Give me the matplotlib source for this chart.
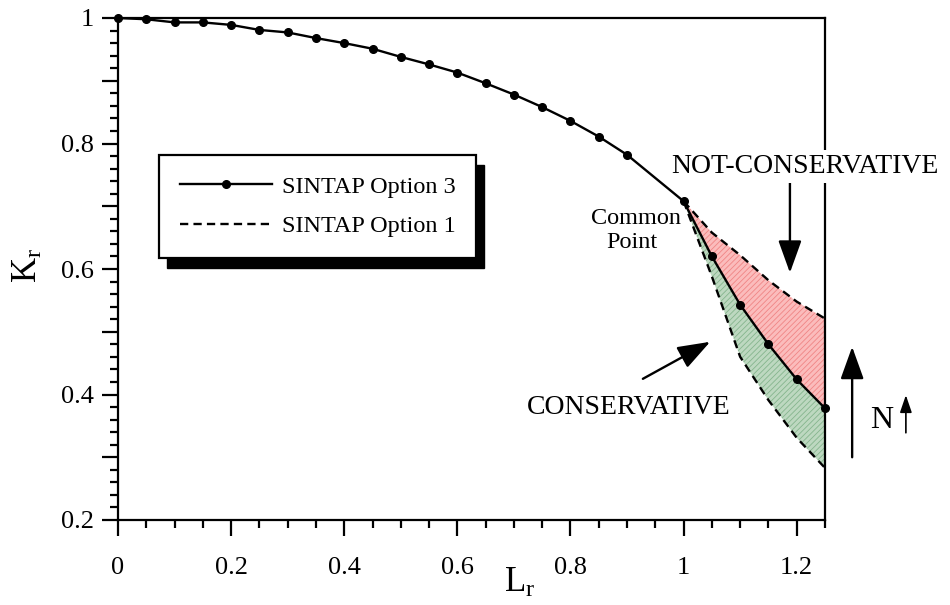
import matplotlib.pyplot as plt
from matplotlib.patches import Rectangle
from matplotlib.ticker import MultipleLocator, FuncFormatter
from matplotlib.transforms import IdentityTransform

plt.rcParams['font.family'] = ['Liberation Serif', 'DejaVu Serif']
plt.rcParams['font.size'] = 19
plt.rcParams['mathtext.default'] = 'regular'
plt.rcParams['hatch.linewidth'] = 0.6

# SINTAP Option 3 failure assessment line
lr_opt3 = [0.00, 0.05, 0.10, 0.15, 0.20, 0.25, 0.30, 0.35, 0.40, 0.45,
           0.50, 0.55, 0.60, 0.65, 0.70, 0.75, 0.80, 0.85, 0.90,
           1.00, 1.05, 1.10, 1.15, 1.20, 1.25]
kr_opt3 = [1.000, 0.998, 0.993, 0.993, 0.989, 0.981, 0.977, 0.968, 0.960, 0.951,
           0.938, 0.926, 0.913, 0.896, 0.878, 0.858, 0.836, 0.811, 0.782,
           0.708, 0.620, 0.543, 0.480, 0.424, 0.378]

# SINTAP Option 1 bounds past the common point
lr_opt1 = [1.00, 1.05, 1.10, 1.15, 1.20, 1.25]
kr_opt1_upper = [0.708, 0.658, 0.622, 0.582, 0.548, 0.521]
kr_opt1_lower = [0.708, 0.588, 0.460, 0.391, 0.331, 0.283]
kr_opt3_tail = kr_opt3[-len(lr_opt1):]

fig = plt.figure(figsize=(9.5, 6.05), dpi=100)
ax = fig.add_axes([118 / 950, 1 - 520 / 605, 707 / 950, 502 / 605])

ax.fill_between(lr_opt1, kr_opt3_tail, kr_opt1_upper, facecolor='#fbbcbc',
                edgecolor='#f08585', hatch='//////', linewidth=0, zorder=1)
ax.fill_between(lr_opt1, kr_opt1_lower, kr_opt3_tail, facecolor='#bdd8c0',
                edgecolor='#85b58d', hatch='//////', linewidth=0, zorder=1)

opt3, = ax.plot(lr_opt3, kr_opt3, '-o', color='k', lw=1.7, ms=5.5,
                clip_on=False, zorder=3, label='SINTAP Option 3')
opt1, = ax.plot(lr_opt1, kr_opt1_upper, '--', color='k', lw=1.7,
                dashes=(3.5, 2.2), zorder=3, label='SINTAP Option 1')
ax.plot(lr_opt1, kr_opt1_lower, '--', color='k', lw=1.7, dashes=(3.5, 2.2), zorder=3)

ax.set_xlim(0, 1.25)
ax.set_ylim(0.2, 1.0)

ax.xaxis.set_major_locator(MultipleLocator(0.2))
ax.xaxis.set_minor_locator(MultipleLocator(0.05))
ax.yaxis.set_major_locator(MultipleLocator(0.1))
ax.yaxis.set_minor_locator(MultipleLocator(0.02))
ax.xaxis.set_major_formatter(FuncFormatter(lambda v, p: '%g' % round(v, 2)))


def every_other(v, p):
    k = v / 0.2
    return '%g' % round(v, 2) if abs(k - round(k)) < 1e-6 else ''


ax.yaxis.set_major_formatter(FuncFormatter(every_other))
ax.tick_params(which='major', direction='out', length=11.5, width=1.6)
ax.tick_params(which='minor', direction='out', length=5.8, width=1.6)
ax.tick_params(axis='x', which='major', pad=15)
ax.tick_params(axis='y', which='major', pad=6)
for s in ax.spines.values():
    s.set_linewidth(1.6)

# axis titles with subscripts
fig.text(504 / 950, 1 - 592 / 605, r'L$_r$', fontsize=25, ha='left', va='baseline')
fig.text(37 / 950, 1 - 283 / 605, r'K$_r$', fontsize=25, rotation=90,
         rotation_mode='anchor', ha='left', va='baseline')

# annotations
ax.text(1.214, 0.753, 'NOT-CONSERVATIVE', ha='center', va='baseline', fontsize=20,
        bbox=dict(facecolor='white', edgecolor='none', pad=3), clip_on=False, zorder=4)
ax.text(0.9026, 0.369, 'CONSERVATIVE', ha='center', va='baseline', fontsize=20)
ax.text(0.9167, 0.672, 'Common', ha='center', va='baseline', fontsize=17.5)
ax.text(0.9088, 0.6335, 'Point', ha='center', va='baseline', fontsize=17.5)
ax.text(1.351, 0.347, 'N', ha='center', va='baseline', fontsize=23, clip_on=False)

big = '-|>,head_length=1.0,head_width=0.36'
small = '-|>,head_length=1.05,head_width=0.36'


def arrow(start, end, style, scale, lw):
    ax.annotate('', xy=end, xytext=start, annotation_clip=False,
                arrowprops=dict(arrowstyle=style, mutation_scale=scale, lw=lw,
                                color='k', shrinkA=0, shrinkB=0))


arrow((1.188, 0.737), (1.188, 0.594), big, 20, 1.7)
arrow((1.298, 0.300), (1.298, 0.476), big, 20, 1.7)
arrow((0.928, 0.425), (1.047, 0.484), big, 20, 1.7)
arrow((1.393, 0.339), (1.393, 0.399), small, 10, 1.2)

leg = ax.legend(handles=[opt3, opt1], loc='upper left',
                bbox_to_anchor=(159 / 950, 1 - 155 / 605), bbox_transform=fig.transFigure,
                frameon=True, fancybox=False, edgecolor='k', framealpha=1,
                borderpad=0.85, handlelength=3.8, handletextpad=0.4,
                labelspacing=0.72, borderaxespad=0, fontsize=17.5)
leg.get_frame().set_linewidth(1.6)

# solid drop shadow behind the legend box
fig.canvas.draw()
bb = leg.get_window_extent()
ax.add_patch(Rectangle((bb.x0 + 8, bb.y0 - 10), bb.width, bb.height,
                       transform=IdentityTransform(), facecolor='k', edgecolor='k',
                       clip_on=False, zorder=4.9))
ax.set_xlim(0, 1.25)
ax.set_ylim(0.2, 1.0)

fig.savefig('out.png', dpi=100)
